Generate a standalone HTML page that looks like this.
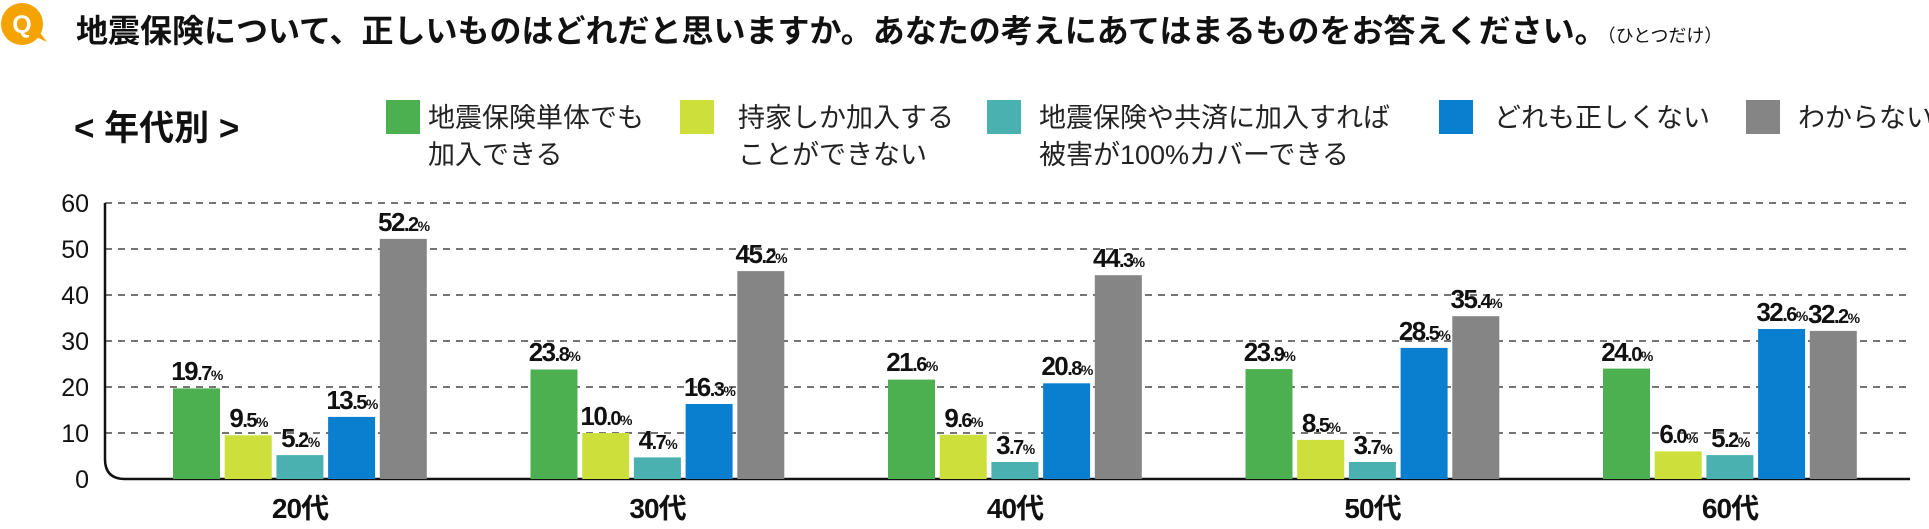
<!DOCTYPE html>
<html><head><meta charset="utf-8"><style>
html,body{margin:0;padding:0;background:#fff;}
svg{display:block;font-family:"Liberation Sans","Noto Sans CJK JP",sans-serif;}
.v{font-weight:bold;font-size:26px;fill:#111;text-anchor:middle;letter-spacing:-1.5px;}
.v tspan.s{font-size:20px;}
.v tspan.p{font-size:14px;}
.y{font-size:25px;fill:#111;text-anchor:end;}
.x{font-size:28px;font-weight:bold;fill:#111;text-anchor:middle;letter-spacing:-1px;}
.lg{font-size:27px;fill:#222;}
</style></head><body>
<svg width="1929" height="529" viewBox="0 0 1929 529">
<circle cx="22" cy="24" r="21" fill="#f5a300"/>
<path d="M34 36 L47 42 L38 30 Z" fill="#f5a300"/>
<text x="22" y="33" font-size="25" font-weight="bold" fill="#fff" text-anchor="middle">Q</text>
<text x="76" y="42" font-size="32" font-weight="bold" fill="#111">地震保険について、正しいものはどれだと思いますか。あなたの考えにあてはまるものをお答えください。<tspan font-size="18" font-weight="normal">（ひとつだけ）</tspan></text>
<text x="74" y="140" font-size="35" font-weight="bold" fill="#111">&lt; 年代別 &gt;</text>
<rect x="386" y="100" width="34" height="34" fill="#4caf50"/>
<text class="lg" x="428" y="127">地震保険単体でも</text><text class="lg" x="428" y="164">加入できる</text>
<rect x="680" y="100" width="34" height="34" fill="#cddf3a"/>
<text class="lg" x="738" y="127">持家しか加入する</text><text class="lg" x="738" y="164">ことができない</text>
<rect x="987" y="100" width="34" height="34" fill="#4bb1b0"/>
<text class="lg" x="1039" y="127">地震保険や共済に加入すれば</text><text class="lg" x="1039" y="164">被害が100%カバーできる</text>
<rect x="1439" y="100" width="34" height="34" fill="#0a7fcf"/>
<text class="lg" x="1494" y="127">どれも正しくない</text>
<rect x="1746" y="100" width="34" height="34" fill="#858585"/>
<text class="lg" x="1798" y="127">わからない</text>
<g stroke="#222" stroke-width="1.3" stroke-dasharray="7,6">
<line x1="105" y1="203" x2="1910" y2="203"/>
<line x1="105" y1="249" x2="1910" y2="249"/>
<line x1="105" y1="295" x2="1910" y2="295"/>
<line x1="105" y1="341" x2="1910" y2="341"/>
<line x1="105" y1="387" x2="1910" y2="387"/>
<line x1="105" y1="433" x2="1910" y2="433"/>
</g>
<path d="M105 203 V459 Q105 479 125 479 H1910" fill="none" stroke="#111" stroke-width="2.5"/>
<g class="y">
<text x="89" y="212">60</text><text x="89" y="258">50</text><text x="89" y="304">40</text>
<text x="89" y="350">30</text><text x="89" y="396">20</text><text x="89" y="442">10</text><text x="89" y="488">0</text>
</g>
<g>
<rect x="173" y="388.4" width="47" height="90.6" fill="#4caf50"/>
<rect x="224.7" y="435.3" width="47" height="43.7" fill="#cddf3a"/>
<rect x="276.4" y="455.1" width="47" height="23.9" fill="#4bb1b0"/>
<rect x="328.1" y="416.9" width="47" height="62.1" fill="#0a7fcf"/>
<rect x="379.8" y="238.9" width="47" height="240.1" fill="#858585"/>
<rect x="530.5" y="369.5" width="47" height="109.5" fill="#4caf50"/>
<rect x="582.2" y="433" width="47" height="46" fill="#cddf3a"/>
<rect x="633.9" y="457.4" width="47" height="21.6" fill="#4bb1b0"/>
<rect x="685.6" y="404" width="47" height="75" fill="#0a7fcf"/>
<rect x="737.3" y="271.1" width="47" height="207.9" fill="#858585"/>
<rect x="888" y="379.6" width="47" height="99.4" fill="#4caf50"/>
<rect x="939.7" y="434.8" width="47" height="44.2" fill="#cddf3a"/>
<rect x="991.4" y="462" width="47" height="17" fill="#4bb1b0"/>
<rect x="1043.1" y="383.3" width="47" height="95.7" fill="#0a7fcf"/>
<rect x="1094.8" y="275.2" width="47" height="203.8" fill="#858585"/>
<rect x="1245.5" y="369.1" width="47" height="109.9" fill="#4caf50"/>
<rect x="1297.2" y="439.9" width="47" height="39.1" fill="#cddf3a"/>
<rect x="1348.9" y="462" width="47" height="17" fill="#4bb1b0"/>
<rect x="1400.6" y="347.9" width="47" height="131.1" fill="#0a7fcf"/>
<rect x="1452.3" y="316.2" width="47" height="162.8" fill="#858585"/>
<rect x="1603" y="368.6" width="47" height="110.4" fill="#4caf50"/>
<rect x="1654.7" y="451.4" width="47" height="27.6" fill="#cddf3a"/>
<rect x="1706.4" y="455.1" width="47" height="23.9" fill="#4bb1b0"/>
<rect x="1758.1" y="329" width="47" height="150" fill="#0a7fcf"/>
<rect x="1809.8" y="330.9" width="47" height="148.1" fill="#858585"/>
</g>
<g class="v">
<text x="196.5" y="380">19<tspan class="s">.7</tspan><tspan class="p">%</tspan></text>
<text x="248.2" y="427">9<tspan class="s">.5</tspan><tspan class="p">%</tspan></text>
<text x="299.9" y="447">5<tspan class="s">.2</tspan><tspan class="p">%</tspan></text>
<text x="351.6" y="409">13<tspan class="s">.5</tspan><tspan class="p">%</tspan></text>
<text x="403.3" y="231">52<tspan class="s">.2</tspan><tspan class="p">%</tspan></text>
<text x="554" y="361">23<tspan class="s">.8</tspan><tspan class="p">%</tspan></text>
<text x="605.7" y="425">10<tspan class="s">.0</tspan><tspan class="p">%</tspan></text>
<text x="657.4" y="449">4<tspan class="s">.7</tspan><tspan class="p">%</tspan></text>
<text x="709.1" y="396">16<tspan class="s">.3</tspan><tspan class="p">%</tspan></text>
<text x="760.8" y="263">45<tspan class="s">.2</tspan><tspan class="p">%</tspan></text>
<text x="911.5" y="371">21<tspan class="s">.6</tspan><tspan class="p">%</tspan></text>
<text x="963.2" y="427">9<tspan class="s">.6</tspan><tspan class="p">%</tspan></text>
<text x="1014.9" y="454">3<tspan class="s">.7</tspan><tspan class="p">%</tspan></text>
<text x="1066.6" y="375">20<tspan class="s">.8</tspan><tspan class="p">%</tspan></text>
<text x="1118.3" y="267">44<tspan class="s">.3</tspan><tspan class="p">%</tspan></text>
<text x="1269" y="361">23<tspan class="s">.9</tspan><tspan class="p">%</tspan></text>
<text x="1320.7" y="432">8<tspan class="s">.5</tspan><tspan class="p">%</tspan></text>
<text x="1372.4" y="454">3<tspan class="s">.7</tspan><tspan class="p">%</tspan></text>
<text x="1424.1" y="340">28<tspan class="s">.5</tspan><tspan class="p">%</tspan></text>
<text x="1475.8" y="308">35<tspan class="s">.4</tspan><tspan class="p">%</tspan></text>
<text x="1626.5" y="361">24<tspan class="s">.0</tspan><tspan class="p">%</tspan></text>
<text x="1678.2" y="443">6<tspan class="s">.0</tspan><tspan class="p">%</tspan></text>
<text x="1729.9" y="447">5<tspan class="s">.2</tspan><tspan class="p">%</tspan></text>
<text x="1781.6" y="321">32<tspan class="s">.6</tspan><tspan class="p">%</tspan></text>
<text x="1833.3" y="323">32<tspan class="s">.2</tspan><tspan class="p">%</tspan></text>
</g>
<g class="x">
<text x="300" y="518">20代</text>
<text x="657.5" y="518">30代</text>
<text x="1015" y="518">40代</text>
<text x="1372.5" y="518">50代</text>
<text x="1730" y="518">60代</text>
</g>
</svg>
</body></html>
